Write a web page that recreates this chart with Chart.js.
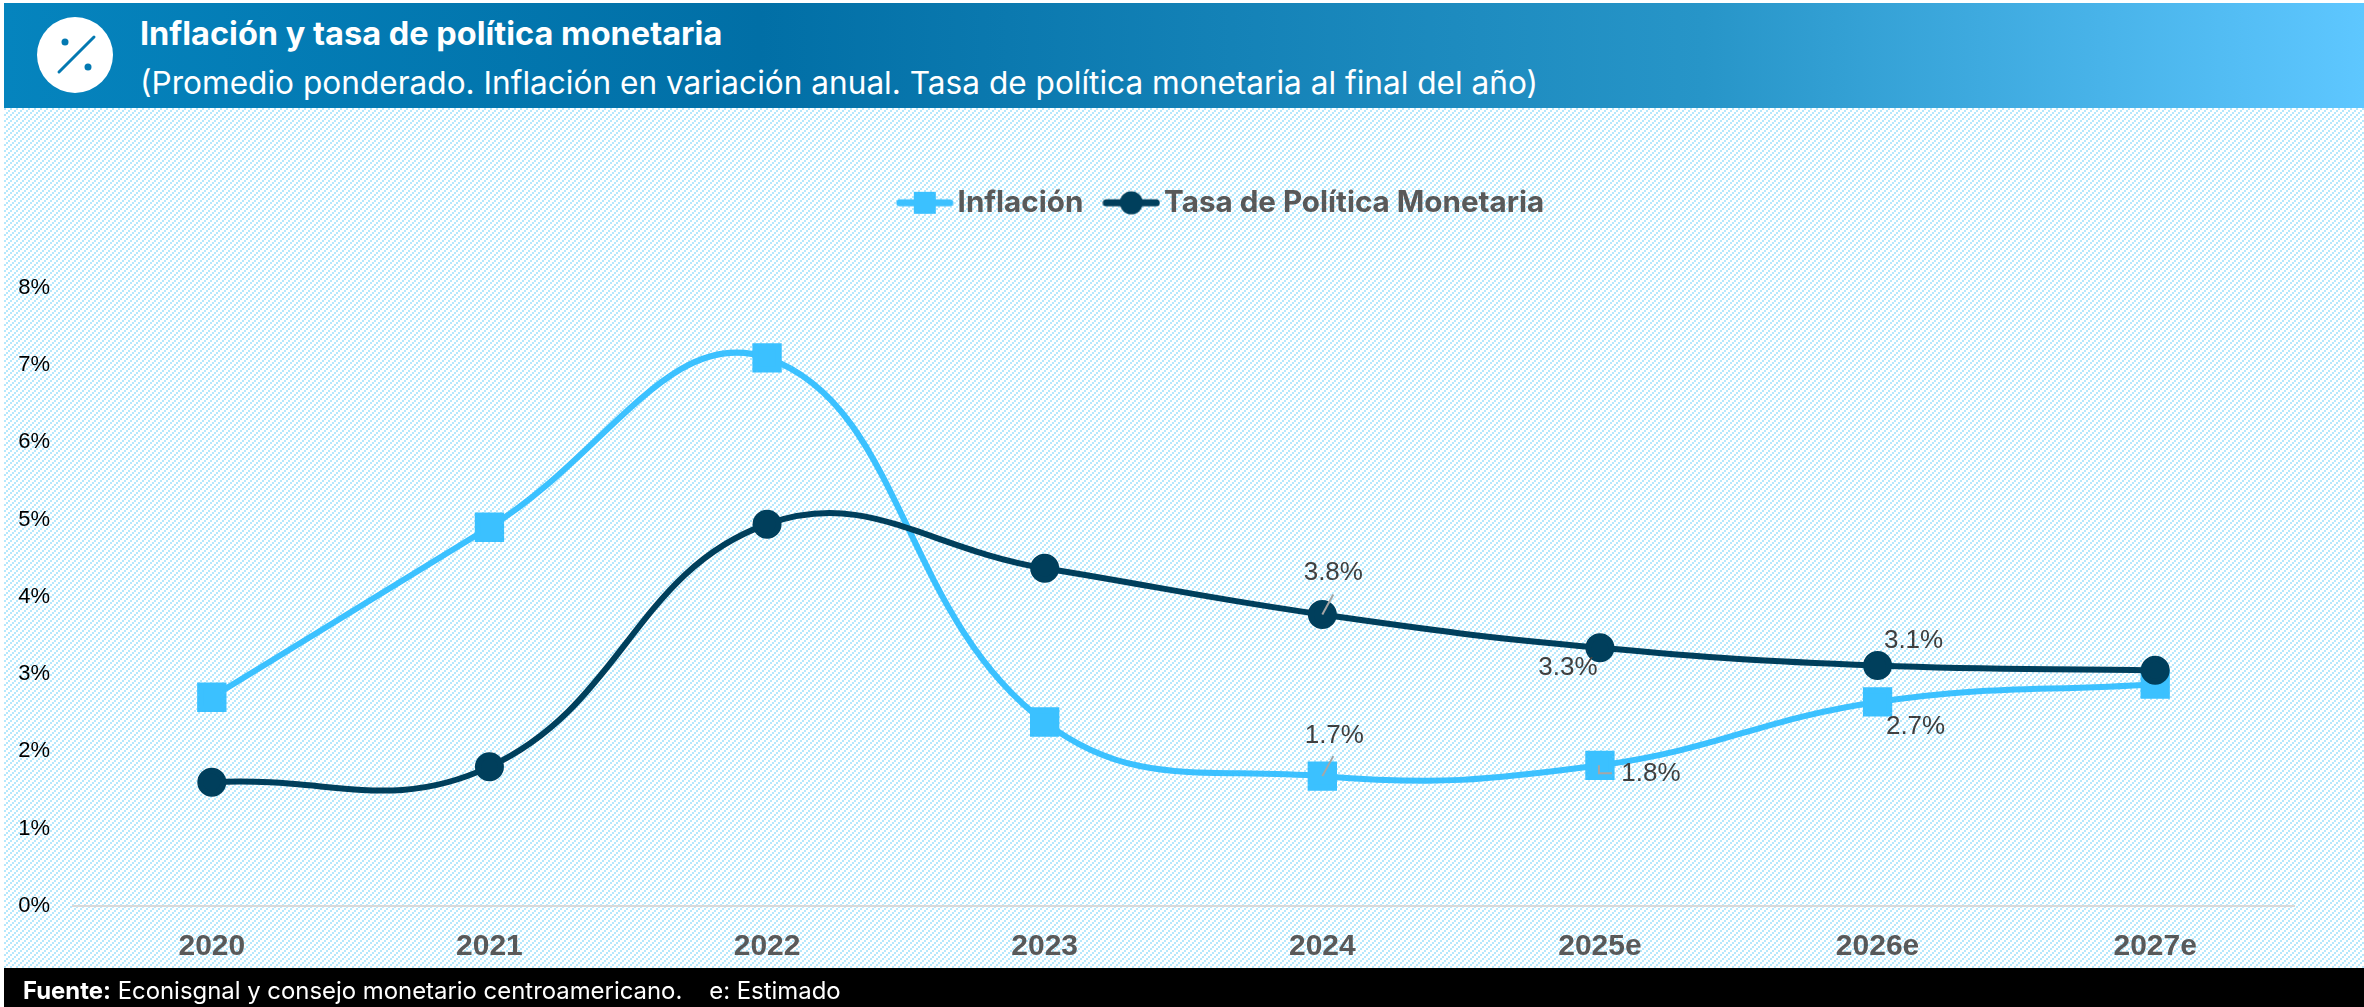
<!DOCTYPE html>
<html>
<head>
<meta charset="utf-8">
<title>Inflación y tasa de política monetaria</title>
<script src="https://cdn.jsdelivr.net/npm/chart.js@4"></script>
<style>
html, body { margin: 0; padding: 0; width: 2364px; height: 1007px; overflow: hidden; background: #fff; }
#hatch { position: absolute; left: 4px; top: 108px; width: 2360px; height: 860px; }
#header {
    position: absolute; left: 4px; top: 3px; width: 2360px; height: 105px;
    background: linear-gradient(90deg, #0584be 0%, #016fa6 32%, #2795c8 72%, #5ec7ff 100%);
    color: #fff; font-family: "Inter", sans-serif;
}
#header svg { position: absolute; left: 33px; top: 14px; }
#title { position: absolute; left: 136px; top: 10px; font-size: 32.5px; line-height: 42px; font-weight: 700; white-space: nowrap; }
#subtitle { position: absolute; left: 136px; top: 61px; font-size: 31.6px; line-height: 38px; white-space: nowrap; }
#footer {
    position: absolute; left: 4px; top: 968px; width: 2360px; height: 39px;
    background: #000; color: #fff; font-family: "Inter", sans-serif; font-size: 23.9px; line-height: 46px; white-space: pre;
}
#footer span { position: absolute; left: 19px; top: 0; }
#wrap { position: absolute; left: 4px; top: 108px; width: 2360px; height: 860px; }
</style>
</head>
<body>
<canvas id="hatch" width="2360" height="860"></canvas>
<div id="header">
    <svg width="76" height="76" viewBox="0 0 76 76">
        <circle cx="38" cy="38" r="38" fill="#fff"/>
        <line x1="57" y1="20" x2="22" y2="55" stroke="#0379b2" stroke-width="3" stroke-linecap="round"/>
        <circle cx="28" cy="25" r="3.5" fill="#0379b2"/>
        <circle cx="51" cy="50" r="3.5" fill="#0379b2"/>
    </svg>
    <div id="title">Inflación y tasa de política monetaria</div>
    <div id="subtitle">(Promedio ponderado. Inflación en variación anual. Tasa de política monetaria al final del año)</div>
</div>
<div id="wrap"><canvas id="chart" width="2360" height="860"></canvas></div>
<div id="footer"><span><b>Fuente:</b> Econisgnal y consejo monetario centroamericano.    e: Estimado</span></div>
<script>
const categories = ["2020", "2021", "2022", "2023", "2024", "2025e", "2026e", "2027e"];
const inflacion = [2.7, 4.9, 7.09, 2.38, 1.68, 1.82, 2.64, 2.87];
const tasaPolitica = [1.6, 1.8, 4.94, 4.37, 3.77, 3.34, 3.11, 3.05];

// only these points carry a label in the reference: [dataset, index, text, dx, dy, leader]
const etiquetas = [
    [1, 4, "3.8%", 11, -42, [[0, 0], [11, -20]]],
    [1, 5, "3.3%", -32, 20, null],
    [1, 6, "3.1%", 36, -25, null],
    [0, 4, "1.7%", 12, -40, [[0, 0], [11, -20]]],
    [0, 5, "1.8%", 51, 9, [[-1, 0], [-1, 8], [12, 8]]],
    [0, 6, "2.7%", 38, 25, null]
];

const AZUL = "#3bc1ff";
const MARINO = "#003f5c";

// hatch background: 2px blocks stepping along the diagonal
const hctx = document.getElementById("hatch").getContext("2d");
const tile = document.createElement("canvas");
tile.width = 6; tile.height = 6;
const tctx = tile.getContext("2d");
tctx.fillStyle = "#fff";
tctx.fillRect(0, 0, 6, 6);
tctx.fillStyle = "#b5e8fc";
for (let i = 0; i < 3; i++) {
    for (let j = 0; j < 3; j++) {
        if ((i + j) % 3 === 0) tctx.fillRect(i * 2, j * 2, 2, 2);
    }
}
hctx.fillStyle = hctx.createPattern(tile, "repeat");
hctx.fillRect(0, 0, 2360, 860);

// line with marker for the legend, as the spreadsheet draws it
function legendMark(color, square) {
    const c = document.createElement("canvas");
    c.width = 58; c.height = 28;
    const g = c.getContext("2d");
    g.strokeStyle = color; g.fillStyle = color;
    g.lineWidth = 7; g.lineCap = "round";
    g.beginPath(); g.moveTo(4, 14); g.lineTo(54, 14); g.stroke();
    if (square) {
        g.fillRect(18, 3, 22, 22);
    } else {
        g.beginPath(); g.arc(29, 14, 11.5, 0, Math.PI * 2); g.fill();
    }
    return c;
}

const labelPlugin = {
    id: "etiquetas",
    afterLayout(chart) {
        // legend sits off centre in the reference
        chart.legend.top = 50;
        chart.legend.right = 2443;
    },
    afterDatasetsDraw(chart) {
        const g = chart.ctx;
        g.save();
        g.font = "26px 'Liberation Sans'";
        g.textAlign = "center";
        g.textBaseline = "middle";
        etiquetas.forEach(([ds, i, text, dx, dy, leader]) => {
            const p = chart.getDatasetMeta(ds).data[i];
            if (leader) {
                g.strokeStyle = "#a6a6a6";
                g.lineWidth = 2;
                g.beginPath();
                leader.forEach(([lx, ly], n) => {
                    if (n === 0) g.moveTo(p.x + lx, p.y + ly);
                    else g.lineTo(p.x + lx, p.y + ly);
                });
                g.stroke();
            }
            g.fillStyle = "#404040";
            g.fillText(text, p.x + dx, p.y + dy);
        });
        g.restore();
    }
};

new Chart(document.getElementById("chart"), {
    type: "line",
    plugins: [labelPlugin],
    data: {
        labels: categories,
        datasets: [{
            label: "Inflación",
            data: inflacion,
            borderColor: AZUL,
            backgroundColor: AZUL,
            borderWidth: 6,
            tension: 0.42,
            pointStyle: "rect",
            pointRadius: 16.5,
            order: 2
        }, {
            label: "Tasa de Política Monetaria",
            data: tasaPolitica,
            borderColor: MARINO,
            backgroundColor: MARINO,
            borderWidth: 6,
            tension: 0.42,
            pointStyle: "circle",
            pointRadius: 11.5,
            order: 1
        }]
    },
    options: {
        responsive: false,
        animation: false,
        layout: { padding: { top: 110, right: 70, bottom: 0, left: 0 } },
        plugins: {
            tooltip: { enabled: false },
            legend: {
                position: "top",
                labels: {
                    usePointStyle: true,
                    pointStyleWidth: 36,
                    padding: 30,
                    color: "#595959",
                    font: { family: "Inter", size: 29.6, weight: "bold" },
                    generateLabels(chart) {
                        return chart.data.datasets.map((d, i) => ({
                            text: d.label,
                            fontColor: "#595959",
                            datasetIndex: i,
                            lineWidth: 0,
                            strokeStyle: "transparent",
                            fillStyle: d.borderColor,
                            pointStyle: legendMark(d.borderColor, i === 0)
                        }));
                    }
                }
            }
        },
        scales: {
            x: {
                offset: true,
                afterFit(scale) { scale.height = 62; },
                grid: { display: false, drawTicks: false },
                border: { color: "#d9d9d9", width: 2 },
                ticks: {
                    color: "#595959",
                    padding: 23,
                    font: { family: "Liberation Sans", size: 30, weight: "bold" }
                }
            },
            y: {
                min: 0,
                max: 8,
                afterFit(scale) { scale.width = 69; },
                grid: { display: false, drawTicks: false },
                border: { display: false },
                ticks: {
                    stepSize: 1,
                    color: "#000",
                    padding: 23,
                    font: { family: "Liberation Sans", size: 22 },
                    callback: v => v + "%"
                }
            }
        }
    }
});
</script>
</body>
</html>
